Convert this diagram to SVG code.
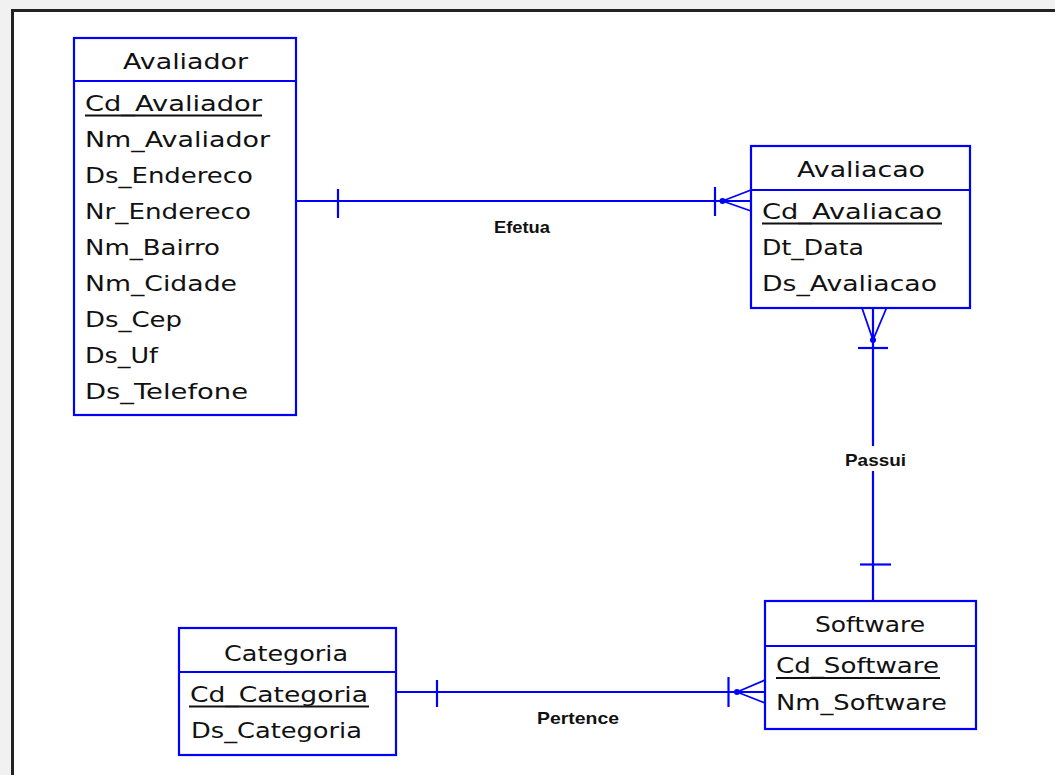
<svg xmlns="http://www.w3.org/2000/svg" width="1055" height="775" viewBox="0 0 1055 775">
<style>
.box{fill:#fff;stroke:#0000ff;stroke-width:2.2}
.ln{stroke:#0000ff;stroke-width:2.2;fill:none}
.cf{stroke:#0000ff;stroke-width:1.8;fill:none}
.t{font-family:"DejaVu Sans",sans-serif;font-size:21px;fill:#111}
.lb{font-family:"Liberation Sans",Arial,sans-serif;font-size:16.5px;font-weight:bold;fill:#111}
.ul{stroke:#111;stroke-width:2}
</style>
<rect x="0" y="0" width="1055" height="775" fill="#f1f1f1"/>
<rect x="12.5" y="10.5" width="1060" height="780" fill="#fff" stroke="#222" stroke-width="3"/>

<g id="connectors">
  <!-- Efetua -->
  <line class="ln" x1="296" y1="201" x2="751" y2="201"/>
  <line class="ln" x1="338" y1="189" x2="338" y2="218"/>
  <line class="ln" x1="715" y1="187" x2="715" y2="216"/>
  <circle cx="722.5" cy="201" r="3" fill="#0000ff"/>
  <path class="cf" d="M722.5 201 L751 190 M722.5 201 L751 211"/>
  <text class="lb" x="494" y="233" textLength="56" lengthAdjust="spacingAndGlyphs">Efetua</text>
  <!-- Passui -->
  <line class="ln" x1="873" y1="308" x2="873" y2="601"/>
  <rect x="842" y="446" width="68" height="25" fill="#fff"/>
  <text class="lb" x="845" y="466" textLength="61" lengthAdjust="spacingAndGlyphs">Passui</text>
  <circle cx="873" cy="340" r="3" fill="#0000ff"/>
  <path class="cf" d="M873 340 L862 308 M873 340 L886.5 308"/>
  <line class="ln" x1="858" y1="348" x2="888" y2="348"/>
  <line class="ln" x1="860" y1="564.5" x2="891" y2="564.5"/>
  <!-- Pertence -->
  <line class="ln" x1="396" y1="692" x2="765" y2="692"/>
  <line class="ln" x1="437" y1="680" x2="437" y2="707"/>
  <line class="ln" x1="728.5" y1="677" x2="728.5" y2="707"/>
  <circle cx="737" cy="692" r="3" fill="#0000ff"/>
  <path class="cf" d="M737 692 L765 680 M737 692 L765 703"/>
  <text class="lb" x="537" y="724" textLength="82" lengthAdjust="spacingAndGlyphs">Pertence</text>
</g>

<g id="Avaliador">
  <rect class="box" x="74" y="38" width="222" height="377"/>
  <line class="ln" x1="74" y1="81" x2="296" y2="81"/>
  <text class="t" x="123" y="69" textLength="125" lengthAdjust="spacingAndGlyphs">Avaliador</text>
  <text class="t" x="85" y="111" textLength="177" lengthAdjust="spacingAndGlyphs">Cd_Avaliador</text>
  <line class="ul" x1="85" y1="115.5" x2="262" y2="115.5"/>
  <text class="t" x="85" y="147" textLength="185" lengthAdjust="spacingAndGlyphs">Nm_Avaliador</text>
  <text class="t" x="85" y="183" textLength="168" lengthAdjust="spacingAndGlyphs">Ds_Endereco</text>
  <text class="t" x="85" y="219" textLength="166" lengthAdjust="spacingAndGlyphs">Nr_Endereco</text>
  <text class="t" x="85" y="255" textLength="135" lengthAdjust="spacingAndGlyphs">Nm_Bairro</text>
  <text class="t" x="85" y="291" textLength="152" lengthAdjust="spacingAndGlyphs">Nm_Cidade</text>
  <text class="t" x="85" y="327" textLength="97" lengthAdjust="spacingAndGlyphs">Ds_Cep</text>
  <text class="t" x="85" y="363" textLength="73" lengthAdjust="spacingAndGlyphs">Ds_Uf</text>
  <text class="t" x="85" y="399" textLength="163" lengthAdjust="spacingAndGlyphs">Ds_Telefone</text>
</g>

<g id="Avaliacao">
  <rect class="box" x="751" y="146" width="219" height="162"/>
  <line class="ln" x1="751" y1="190" x2="970" y2="190"/>
  <text class="t" x="797" y="177" textLength="128" lengthAdjust="spacingAndGlyphs">Avaliacao</text>
  <text class="t" x="762" y="219" textLength="180" lengthAdjust="spacingAndGlyphs">Cd_Avaliacao</text>
  <line class="ul" x1="762" y1="223.5" x2="942" y2="223.5"/>
  <text class="t" x="762" y="255" textLength="102" lengthAdjust="spacingAndGlyphs">Dt_Data</text>
  <text class="t" x="762" y="291" textLength="175" lengthAdjust="spacingAndGlyphs">Ds_Avaliacao</text>
</g>

<g id="Software">
  <rect class="box" x="765" y="601" width="211" height="128"/>
  <line class="ln" x1="765" y1="646" x2="976" y2="646"/>
  <text class="t" x="815" y="632" textLength="110" lengthAdjust="spacingAndGlyphs">Software</text>
  <text class="t" x="776" y="673" textLength="163" lengthAdjust="spacingAndGlyphs">Cd_Software</text>
  <line class="ul" x1="776" y1="678" x2="940" y2="678"/>
  <text class="t" x="776" y="710" textLength="171" lengthAdjust="spacingAndGlyphs">Nm_Software</text>
</g>

<g id="Categoria">
  <rect class="box" x="179" y="628" width="217" height="127"/>
  <line class="ln" x1="179" y1="672" x2="396" y2="672"/>
  <text class="t" x="224" y="661" textLength="124" lengthAdjust="spacingAndGlyphs">Categoria</text>
  <text class="t" x="190" y="702" textLength="178" lengthAdjust="spacingAndGlyphs">Cd_Categoria</text>
  <line class="ul" x1="189" y1="706.5" x2="369" y2="706.5"/>
  <text class="t" x="191" y="738" textLength="171" lengthAdjust="spacingAndGlyphs">Ds_Categoria</text>
</g>
</svg>
